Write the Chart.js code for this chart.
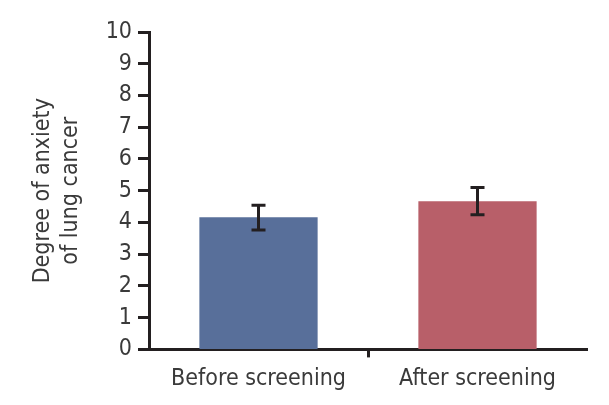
<!DOCTYPE html>
<html>
<head>
<meta charset="utf-8">
<script src="https://cdn.jsdelivr.net/npm/chart.js@4/dist/chart.umd.min.js"></script>
<style>
html,body{margin:0;padding:0;background:#fff;}
#wrap{width:609px;height:405px;position:relative;}
</style>
</head>
<body>
<div id="wrap"><canvas id="c" width="609" height="405"></canvas></div>
<script>
const categories = ["Before screening", "After screening"];
const means = [4.16, 4.67];
const errLow = [3.76, 4.24];
const errHigh = [4.54, 5.10];
const yTicks = [0,1,2,3,4,5,6,7,8,9,10];
const yTitle = ["Degree of anxiety", "of lung cancer"];
const barColors = ["#586f9a", "#b85f69"];

const FONT = "'Liberation Sans Narrow', 'DejaVu Sans Condensed', 'Liberation Sans', sans-serif";
const INK = "#231f20";
const TXT = "#3a3a3a";

const errorBars = {
  id: 'errorBars',
  afterDatasetsDraw(chart) {
    const ctx = chart.ctx, x = chart.scales.x, y = chart.scales.y;
    ctx.save();
    ctx.strokeStyle = INK;
    ctx.lineWidth = 3;
    const cap = 7;
    categories.forEach((c, i) => {
      const px = x.getPixelForValue(i);
      const yl = y.getPixelForValue(errLow[i]);
      const yh = y.getPixelForValue(errHigh[i]);
      ctx.beginPath();
      ctx.moveTo(px, yl); ctx.lineTo(px, yh);
      ctx.moveTo(px - cap, yl); ctx.lineTo(px + cap, yl);
      ctx.moveTo(px - cap, yh); ctx.lineTo(px + cap, yh);
      ctx.stroke();
    });
    ctx.restore();
  }
};

new Chart(document.getElementById('c'), {
  type: 'bar',
  data: {
    labels: categories,
    datasets: [{
      data: means,
      backgroundColor: barColors,
      borderWidth: 0,
      categoryPercentage: 1.0,
      barPercentage: 0.54
    }]
  },
  options: {
    responsive: false,
    animation: false,
    layout: { padding: { left: 0, right: 22, top: 32, bottom: 4 } },
    plugins: { legend: { display: false }, tooltip: { enabled: false } },
    scales: {
      x: {
        offset: true,
        border: { display: true, color: INK, width: 3 },
        grid: {
          offset: true,
          drawOnChartArea: false,
          drawTicks: true,
          tickLength: 8,
          tickWidth: 3,
          tickColor: (ctx) => (ctx.index === 1 ? INK : 'rgba(0,0,0,0)')
        },
        ticks: { color: TXT, font: { family: FONT, size: 23 }, padding: 8 }
      },
      y: {
        min: 0, max: 10,
        afterBuildTicks: (scale) => { scale.ticks = yTicks.map(v => ({ value: v })); },
        afterFit: (scale) => { scale.width = 149; },
        border: { display: true, color: INK, width: 3 },
        grid: {
          drawOnChartArea: false,
          drawTicks: true,
          tickLength: 11,
          tickWidth: 3,
          tickColor: INK
        },
        ticks: { color: TXT, font: { family: FONT, size: 23 }, padding: 6 },
        title: {
          display: true,
          text: yTitle,
          color: TXT,
          font: { family: FONT, size: 23, lineHeight: 1.22 },
          padding: { top: 29, bottom: 0 }
        }
      }
    }
  },
  plugins: [errorBars]
});
</script>
</body>
</html>
